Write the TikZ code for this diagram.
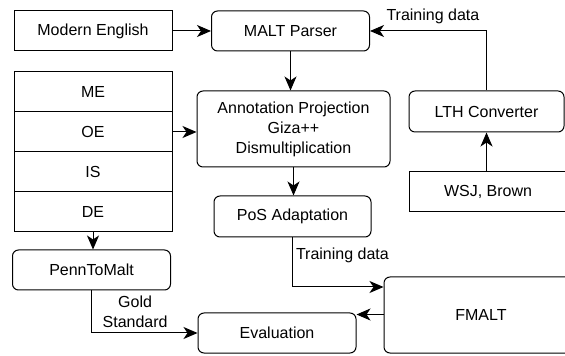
\documentclass[tikz,border=0pt]{standalone}
\usepackage{fontspec}
\setmainfont{Liberation Sans}
\usetikzlibrary{arrows.meta}
\begin{document}
\begin{tikzpicture}[x=.5pt,y=-.5pt,line width=.5pt,
	font=\fontsize{8}{10}\selectfont,
	box/.style={draw,inner sep=0,minimum width=79pt,minimum height=20pt,align=center},
	rbox/.style={box,rounded corners=3pt},
	arr/.style={-{Stealth[length=7pt,width=6pt,inset=2pt]}}]
	\useasboundingbox (0,0) rectangle (565,356);
	\clip (0,0) rectangle (565,356);
	\node[box] (eng) at (93,31) {Modern English};
	\node[rbox] (malt) at (290.5,31) {MALT Parser};
	\foreach \n/\t/\y in {me/ME/92,oe/OE/132,is/IS/172,de/DE/212}
		\node[box] (\n) at (93,\y) {\t};
	\node[rbox,minimum width=96.5pt,minimum height=38pt] (annot) at (293.5,129)
		{Annotation Projection\\Giza++\\Dismultiplication};
	\node[rbox,minimum width=77.5pt,minimum height=20.5pt] (lth) at (486.5,111.5) {LTH Converter};
	\node[box] (wsj) at (488,192) {WSJ, Brown};
	\node[rbox,minimum width=78.5pt,minimum height=20.5pt] (pos) at (292.5,216.5) {PoS Adaptation};
	\node[rbox] (penn) at (91.5,270) {PennToMalt};
	\node[rbox] (eval) at (277,333) {Evaluation};
	\node[rbox,minimum width=97pt,minimum height=38pt] (fmalt) at (481,315) {FMALT};
	\coordinate (ein) at ([yshift=-1pt]eval.north east);
	\draw[arr] (eng) -- (malt);
	\draw[arr] (malt.south) -- (malt.south |- annot.north);
	\draw[arr] (oe.east) -- (oe.east -| annot.west);
	\draw[arr] (annot.south) -- (annot.south |- pos.north);
	\draw[arr] (lth.north) |- node[pos=.73,above]{Training data} (malt.east);
	\draw[arr] (lth.south |- wsj.north) -- (lth.south);
	\draw[arr] (de.south) -- (de.south |- penn.north);
	\draw[arr] (pos.south) |- node[pos=.18,right,inner sep=1.5pt]{Training data} ([yshift=14pt]fmalt.west);
	\draw[arr] (penn.south) |- node[pos=.25,right,align=center,xshift=2pt]{Gold\\Standard} (eval.west);
	\draw[arr] (fmalt.west |- ein) -- (ein);
\end{tikzpicture}
\end{document}
